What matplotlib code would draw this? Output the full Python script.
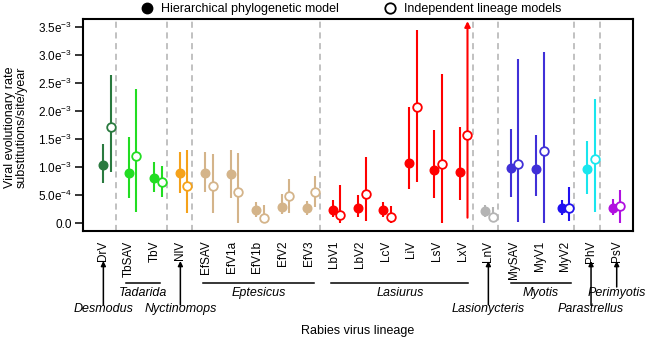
import numpy as np
import matplotlib
matplotlib.use("Agg")
import matplotlib.pyplot as plt
from matplotlib.lines import Line2D
from matplotlib import transforms

plt.rcParams["font.family"] = ["Liberation Sans", "DejaVu Sans"]
plt.rcParams["mathtext.fontset"] = "custom"
plt.rcParams["mathtext.rm"] = "Liberation Sans"
plt.rcParams["mathtext.it"] = "Liberation Sans:italic"

lineages = ["DrV", "TbSAV", "TbV", "NlV", "EfSAV", "EfV1a", "EfV1b", "EfV2", "EfV3",
            "LbV1", "LbV2", "LcV", "LiV", "LsV", "LxV", "LnV",
            "MySAV", "MyV1", "MyV2", "PhV", "PsV"]

colors = ["#2a7a3f", "#22dd22", "#22dd22", "#f5a21a",
          "#d4b48a", "#d4b48a", "#d4b48a", "#d4b48a", "#d4b48a",
          "#ff0000", "#ff0000", "#ff0000", "#ff0000", "#ff0000", "#ff0000",
          "#b4b4b4", "#4030d8", "#4030d8", "#2010f0", "#19e6ee", "#b010e0"]

# Hierarchical phylogenetic model: median and 95% HPD (substitutions/site/year)
hier_mid = [1.03e-3, 0.90e-3, 0.81e-3, 0.90e-3, 0.90e-3, 0.88e-3, 0.24e-3, 0.29e-3, 0.26e-3,
            0.23e-3, 0.26e-3, 0.23e-3, 1.07e-3, 0.95e-3, 0.92e-3, 0.21e-3,
            0.98e-3, 0.97e-3, 0.26e-3, 0.96e-3, 0.27e-3]
hier_lo = [0.71e-3, 0.45e-3, 0.55e-3, 0.53e-3, 0.55e-3, 0.44e-3, 0.11e-3, 0.155e-3, 0.14e-3,
           0.10e-3, 0.10e-3, 0.10e-3, 0.61e-3, 0.45e-3, 0.41e-3, 0.11e-3,
           0.47e-3, 0.48e-3, 0.14e-3, 0.51e-3, 0.14e-3]
hier_hi = [1.42e-3, 1.53e-3, 1.085e-3, 1.27e-3, 1.27e-3, 1.30e-3, 0.375e-3, 0.51e-3, 0.39e-3,
           0.41e-3, 0.50e-3, 0.375e-3, 2.07e-3, 1.67e-3, 1.72e-3, 0.33e-3,
           1.675e-3, 1.57e-3, 0.42e-3, 1.47e-3, 0.43e-3]

# Independent lineage models: median and 95% HPD
ind_mid = [1.72e-3, 1.20e-3, 0.73e-3, 0.67e-3, 0.67e-3, 0.55e-3, 0.09e-3, 0.49e-3, 0.55e-3,
           0.15e-3, 0.51e-3, 0.11e-3, 2.08e-3, 1.05e-3, 1.58e-3, 0.11e-3,
           1.05e-3, 1.28e-3, 0.27e-3, 1.14e-3, 0.31e-3]
ind_lo = [0.91e-3, 0.20e-3, 0.47e-3, 0.17e-3, 0.17e-3, 0.005e-3, 0.0, 0.17e-3, 0.29e-3,
          0.005e-3, 0.03e-3, 0.0, 0.73e-3, 0.0, 0.095e-3, 0.02e-3,
          0.01e-3, 0.0, 0.04e-3, 0.19e-3, 0.0]
ind_hi = [2.64e-3, 2.40e-3, 1.02e-3, 1.30e-3, 1.23e-3, 1.25e-3, 0.32e-3, 0.78e-3, 0.84e-3,
          0.68e-3, 1.18e-3, 0.31e-3, 3.46e-3, 2.66e-3, 4.0e-3, 0.28e-3,
          2.93e-3, 3.06e-3, 0.64e-3, 2.22e-3, 0.59e-3]

# host genus brackets: (name, first lineage, last lineage)
genus_groups = [("Tadarida", 1, 2), ("Eptesicus", 4, 8), ("Lasiurus", 9, 14), ("Myotis", 16, 18)]
# single-lineage hosts: (name, lineage index, text row)
genus_single = [("Desmodus", 0, 2), ("Nyctinomops", 3, 2), ("Lasionycteris", 15, 2),
                ("Parastrellus", 19, 2), ("Perimyotis", 20, 1)]
separators = [0.5, 2.5, 3.5, 8.5, 14.5, 15.5, 18.5, 19.5]

yticks = [0.0, 0.5e-3, 1.0e-3, 1.5e-3, 2.0e-3, 2.5e-3, 3.0e-3, 3.5e-3]
ytick_labels = ["0.0", r"5.0e$^{-4}$", r"1.0e$^{-3}$", r"1.5e$^{-3}$", r"2.0e$^{-3}$",
                r"2.5e$^{-3}$", r"3.0e$^{-3}$", r"3.5e$^{-3}$"]

FS = 9.0
W, H = 656, 347
fig = plt.figure(figsize=(W / 100, H / 100), dpi=100)
ax = fig.add_axes([83 / W, 1 - 231 / H, 550 / W, 212 / H])

YMIN, YMAX = -0.143e-3, 3.648e-3
ax.set_xlim(-0.8, 20.8)
ax.set_ylim(YMIN, YMAX)

for s in separators:
    ax.axvline(s, color="#b0b0b0", lw=1.1, ls=(0, (4, 3)), zorder=1)

n = len(lineages)
x_h = np.arange(n)
x_i = x_h + 0.3
lw = 1.5
for k in range(n):
    c = colors[k]
    ax.plot([x_h[k], x_h[k]], [hier_lo[k], hier_hi[k]], color=c, lw=lw, zorder=2,
            solid_capstyle="butt")
    top = ind_hi[k]
    if top > YMAX:
        tip = 3.61e-3
        ax.annotate("", xy=(x_i[k], tip), xytext=(x_i[k], ind_lo[k]),
                    arrowprops=dict(arrowstyle="-|>", color=c, lw=lw, mutation_scale=8,
                                    shrinkA=0, shrinkB=0), zorder=2)
    else:
        ax.plot([x_i[k], x_i[k]], [ind_lo[k], top], color=c, lw=lw, zorder=2,
                solid_capstyle="butt")
    ax.plot(x_h[k], hier_mid[k], "o", color=c, ms=6.2, mec=c, zorder=3)
    ax.plot(x_i[k], ind_mid[k], "o", mfc="white", mec=c, mew=1.3, ms=6.2, zorder=3)

ax.set_yticks(yticks)
ax.set_yticklabels(ytick_labels, fontsize=8.5)
ax.tick_params(axis="y", length=6, width=1.1, pad=2)
label_pos = np.linspace(0, 20.16, n)
ax.set_xticks(label_pos)
ax.set_xticklabels(lineages, rotation=90, fontsize=8.5)
ax.tick_params(axis="x", length=0, pad=7)
for sp in ax.spines.values():
    sp.set_linewidth(1.5)

ax.set_ylabel("Viral evolutionary rate\nsubstitutions/site/year", fontsize=FS,
              linespacing=0.95)
ax.yaxis.set_label_coords(-0.10, 0.49)
fig.text(358 / W, 1 - 331 / H, "Rabies virus lineage", ha="center", va="center", fontsize=FS)

# host genus annotations under the axis
tr = transforms.blended_transform_factory(ax.transData, fig.transFigure)
def fy(py):
    return 1 - py / H

for name, a, b in genus_groups:
    xa, xb = label_pos[a] - 0.12, label_pos[b] + 0.22
    ax.plot([xa, xb], [fy(283), fy(283)], color="black", lw=1.1, transform=tr, clip_on=False)
    ax.text((xa + xb) / 2, fy(293), name, transform=tr, ha="center", va="center",
            fontsize=FS, style="italic")

for name, k, row in genus_single:
    xk = label_pos[k]
    tail = 305 if row == 2 else 287
    ax.annotate("", xy=(xk, fy(261)), xytext=(xk, fy(tail)), xycoords=tr, textcoords=tr,
                arrowprops=dict(arrowstyle="-|>", color="black", lw=1.1, mutation_scale=7,
                                shrinkA=0, shrinkB=0), annotation_clip=False)
    ty = 309 if row == 2 else 293
    ax.text(xk, fy(ty), name, transform=tr, ha="center", va="center",
            fontsize=FS, style="italic")

# legend above the axes
handles = [Line2D([], [], marker="o", ls="none", color="black", ms=7.5),
           Line2D([], [], marker="o", ls="none", mfc="white", mec="black", mew=1.3, ms=7.5)]
fig.legend(handles, ["Hierarchical phylogenetic model", "Independent lineage models"],
           loc="center", bbox_to_anchor=(351 / W, 1 - 9 / H), ncol=2, frameon=False,
           fontsize=FS, handletextpad=0.6, columnspacing=3.6, handlelength=1.0,
           borderaxespad=0, borderpad=0)

fig.savefig("out.png", dpi=100)
